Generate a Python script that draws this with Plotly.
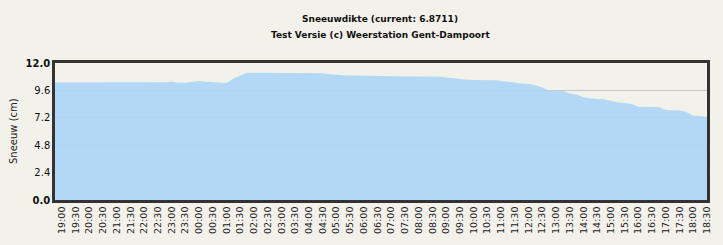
import plotly.graph_objects as go
from datetime import datetime, timedelta

# ---- data ----
start = datetime(2021, 2, 9, 18, 45)
snow_cm = [
    10.30, 10.30, 10.28, 10.28, 10.27, 10.27, 10.28, 10.28, 10.27, 10.28,
    10.30, 10.30, 10.28, 10.30, 10.33, 10.30, 10.32, 10.35, 10.27, 10.28,
    10.35, 10.43, 10.35, 10.30, 10.25, 10.25, 10.65, 10.90, 11.15, 11.15,
    11.15, 11.15, 11.13, 11.13, 11.15, 11.13, 11.15, 11.12, 11.10, 11.10,
    11.02, 10.95, 10.92, 10.90, 10.88, 10.87, 10.85, 10.83, 10.83, 10.83,
    10.84, 10.84, 10.84, 10.84, 10.84, 10.83, 10.80, 10.73, 10.65, 10.55,
    10.53, 10.52, 10.52, 10.50, 10.48, 10.42, 10.33, 10.25, 10.20, 10.18,
    10.05, 9.85, 9.57, 9.57, 9.57, 9.30, 9.25, 9.00, 8.88, 8.85,
    8.82, 8.70, 8.55, 8.50, 8.40, 8.17, 8.16, 8.15, 8.13, 7.88,
    7.85, 7.84, 7.70, 7.38, 7.35, 7.24,
]
times = [start + timedelta(minutes=15 * i) for i in range(len(snow_cm))]
tick_labels = ["%02d:%02d" % (((19 * 60 + 30 * k) // 60) % 24, (30 * k) % 60) for k in range(48)]
tick_times = [datetime(2021, 2, 9, 19, 0) + timedelta(minutes=30 * k) for k in range(48)]
y_ticks = [0.0, 2.4, 4.8, 7.2, 9.6, 12.0]
y_tick_text = ["<b>0.0</b>", "2.4", "4.8", "7.2", "9.6", "<b>12.0</b>"]

BG = "#f2f1ea"
W, H = 723, 245
L, R, T, B = 55, 16, 63, 45

def px(pix):
    return (pix - L) / (W - L - R)

def py(pix):
    return (H - B - pix) / (H - T - B)

fig = go.Figure()
fig.add_trace(go.Scatter(
    x=times, y=snow_cm, mode="lines", line=dict(width=0, color="rgba(0,0,0,0)"),
    fill="tozeroy", fillcolor="rgba(174,214,245,0.92)", hoverinfo="skip",
))
fig.update_layout(
    width=W, height=H, paper_bgcolor=BG, plot_bgcolor=BG,
    margin=dict(l=L, r=R, t=T, b=B), showlegend=False,
    font=dict(family="DejaVu Sans", size=9, color="#111"),
)
fig.add_annotation(text="<b>Sneeuwdikte (current: 6.8711)</b>", xref="paper", yref="paper",
                   x=px(380), y=py(19), showarrow=False,
                   xanchor="center", yanchor="middle", font=dict(size=9, color="#111"))
fig.add_annotation(text="<b>Test Versie (c) Weerstation Gent-Dampoort</b>", xref="paper", yref="paper",
                   x=px(380), y=py(35), showarrow=False,
                   xanchor="center", yanchor="middle", font=dict(size=9, color="#111"))
fig.add_annotation(text="Sneeuw (cm)", xref="paper", yref="paper", x=px(13),
                   y=py(131), textangle=-90, showarrow=False, xanchor="center", yanchor="middle",
                   font=dict(size=10, color="#222"))
fig.update_xaxes(
    type="date", range=[times[0], times[-1]], tickvals=tick_times, ticktext=tick_labels,
    tickangle=-90, showgrid=False, showline=True, linecolor="#333", linewidth=2.5, mirror=True,
    ticks="", tickfont=dict(size=9.5, color="#222"), zeroline=False,
)
fig.update_yaxes(
    range=[0, 12], tickvals=y_ticks, ticktext=y_tick_text, showgrid=True, gridcolor="#c8c8c8",
    gridwidth=1, showline=True, linecolor="#333", linewidth=2.5, mirror=True, ticks="",
    tickfont=dict(size=10, color="#111"), zeroline=False,
)
fig.write_html("out.html")
